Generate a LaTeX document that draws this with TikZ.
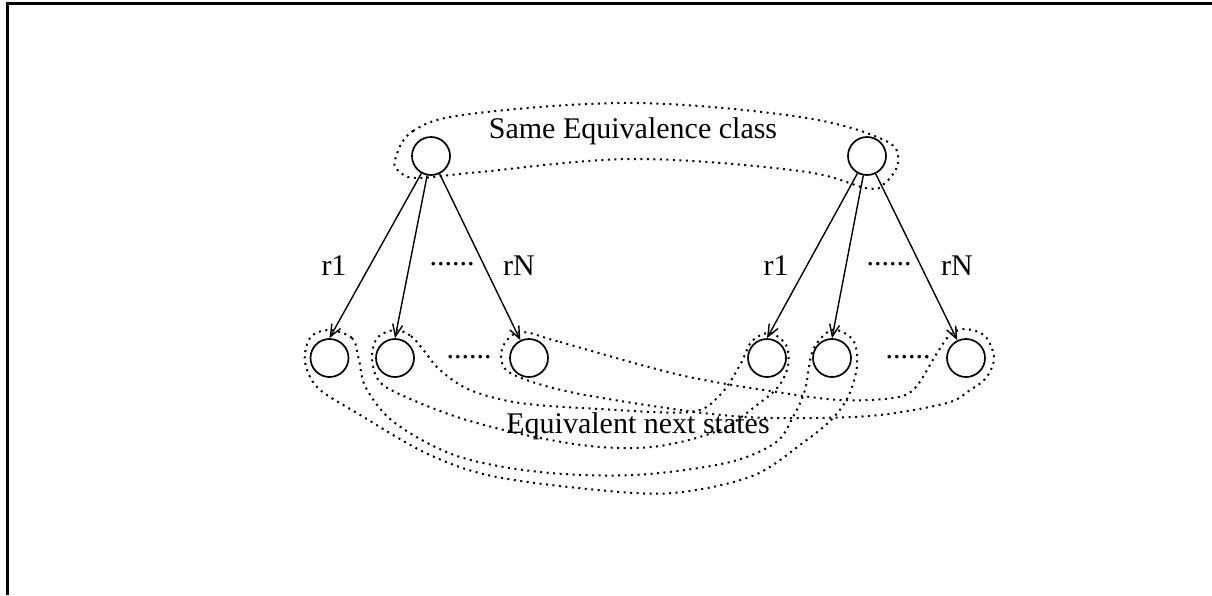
\documentclass[tikz,border=0pt]{standalone}
\usepackage{fontspec}
\setmainfont{Liberation Serif}
\usetikzlibrary{arrows.meta}
\begin{document}
\begin{tikzpicture}[x=1pt,y=-1pt,
  state/.style={circle,draw,line width=1.7pt,minimum size=38pt,inner sep=0pt},
  arr/.style={line width=1.4pt,-{Straight Barb[length=12pt,width=10pt,line width=1.4pt]}},
  dotline/.style={line width=2pt,dash pattern=on 2pt off 4.5pt},
  lbl/.style={font=\fontsize{30}{36}\selectfont,inner sep=0pt,anchor=base}]
\useasboundingbox (0,0) rectangle (1212,595);
\draw[line width=3pt] (7.5,595) -- (7.5,3) -- (1212,3);

% states
\node[state] (t1) at (431,156) {};
\node[state] (t2) at (867,156) {};
\node[state] (b1) at (329.5,358) {};
\node[state] (b2) at (395,358) {};
\node[state] (b3) at (529,358) {};
\node[state] (b4) at (767,358) {};
\node[state] (b5) at (832,358) {};
\node[state] (b6) at (966,358) {};

% transitions
\draw[arr] (t1) -- (b1.north);
\draw[arr] (t1) -- (b2.north);
\draw[arr] (t1) -- (b3);
\draw[arr] (t2) -- (b4.north);
\draw[arr] (t2) -- (b5.north);
\draw[arr] (t2) -- (b6);

% labels
\node[lbl] (l1) at (334,275) {r1};
\node[lbl] (l2) at (452,265) {......};
\node[lbl] (l3) at (519,275) {rN};
\node[lbl] (l4) at (776,275) {r1};
\node[lbl] (l5) at (889,265) {......};
\node[lbl] (l6) at (957,275) {rN};
\node[lbl] (d1) at (469,358) {......};
\node[lbl] (d2) at (908,358) {......};
\node[lbl] (same) at (633,138) {Same Equivalence class};
\node[lbl] (eqn) at (638,433) {Equivalent next states};

% top equivalence class enclosure
\draw[dotline] plot[smooth cycle, tension=0.6] coordinates {
  (395,160) (413,131) (470,114) (634,103) (800,117) (884,140)
  (898,162) (884,184) (866,188) (800,171) (634,159) (480,172) (418,178) (400,172)};

% loop b1 - b5
\draw[dotline] plot[smooth cycle, tension=0.55] coordinates {
  (328,330) (352,338) (359,360) (366,388) (395,423) (457,456) (540,472)
  (634,475) (726,463) (775,443) (793,417) (805,390) (813,350) (832,330)
  (853,340) (857,366) (848,397) (831,420) (804,442) (757,474) (696,490)
  (634,493) (502,478) (430,455) (357,413) (318,388) (305,362) (310,338)};

% loop b2 - b4
\draw[dotline] plot[smooth cycle, tension=0.55] coordinates {
  (395,330) (411,336) (425,352) (440,370) (470,390) (520,403) (600,409)
  (690,412) (720,395) (740,365) (752,341) (770,333) (786,345) (788,366)
  (778,387) (757,405) (720,430) (660,446) (600,447) (530,436) (457,417)
  (395,392) (377,378) (372,355) (378,337)};

% loop b3 - b6
\draw[dotline] plot[smooth cycle, tension=0.55] coordinates {
  (523,332) (560,342) (680,375) (777,392) (840,400) (893,398) (915,388)
  (937,353) (950,335) (965,329) (985,336) (994,358) (986,378) (970,390)
  (947,403) (880,415) (813,418) (747,417) (680,410) (570,392) (512,374)
  (501,357) (507,340)};
\end{tikzpicture}
\end{document}
